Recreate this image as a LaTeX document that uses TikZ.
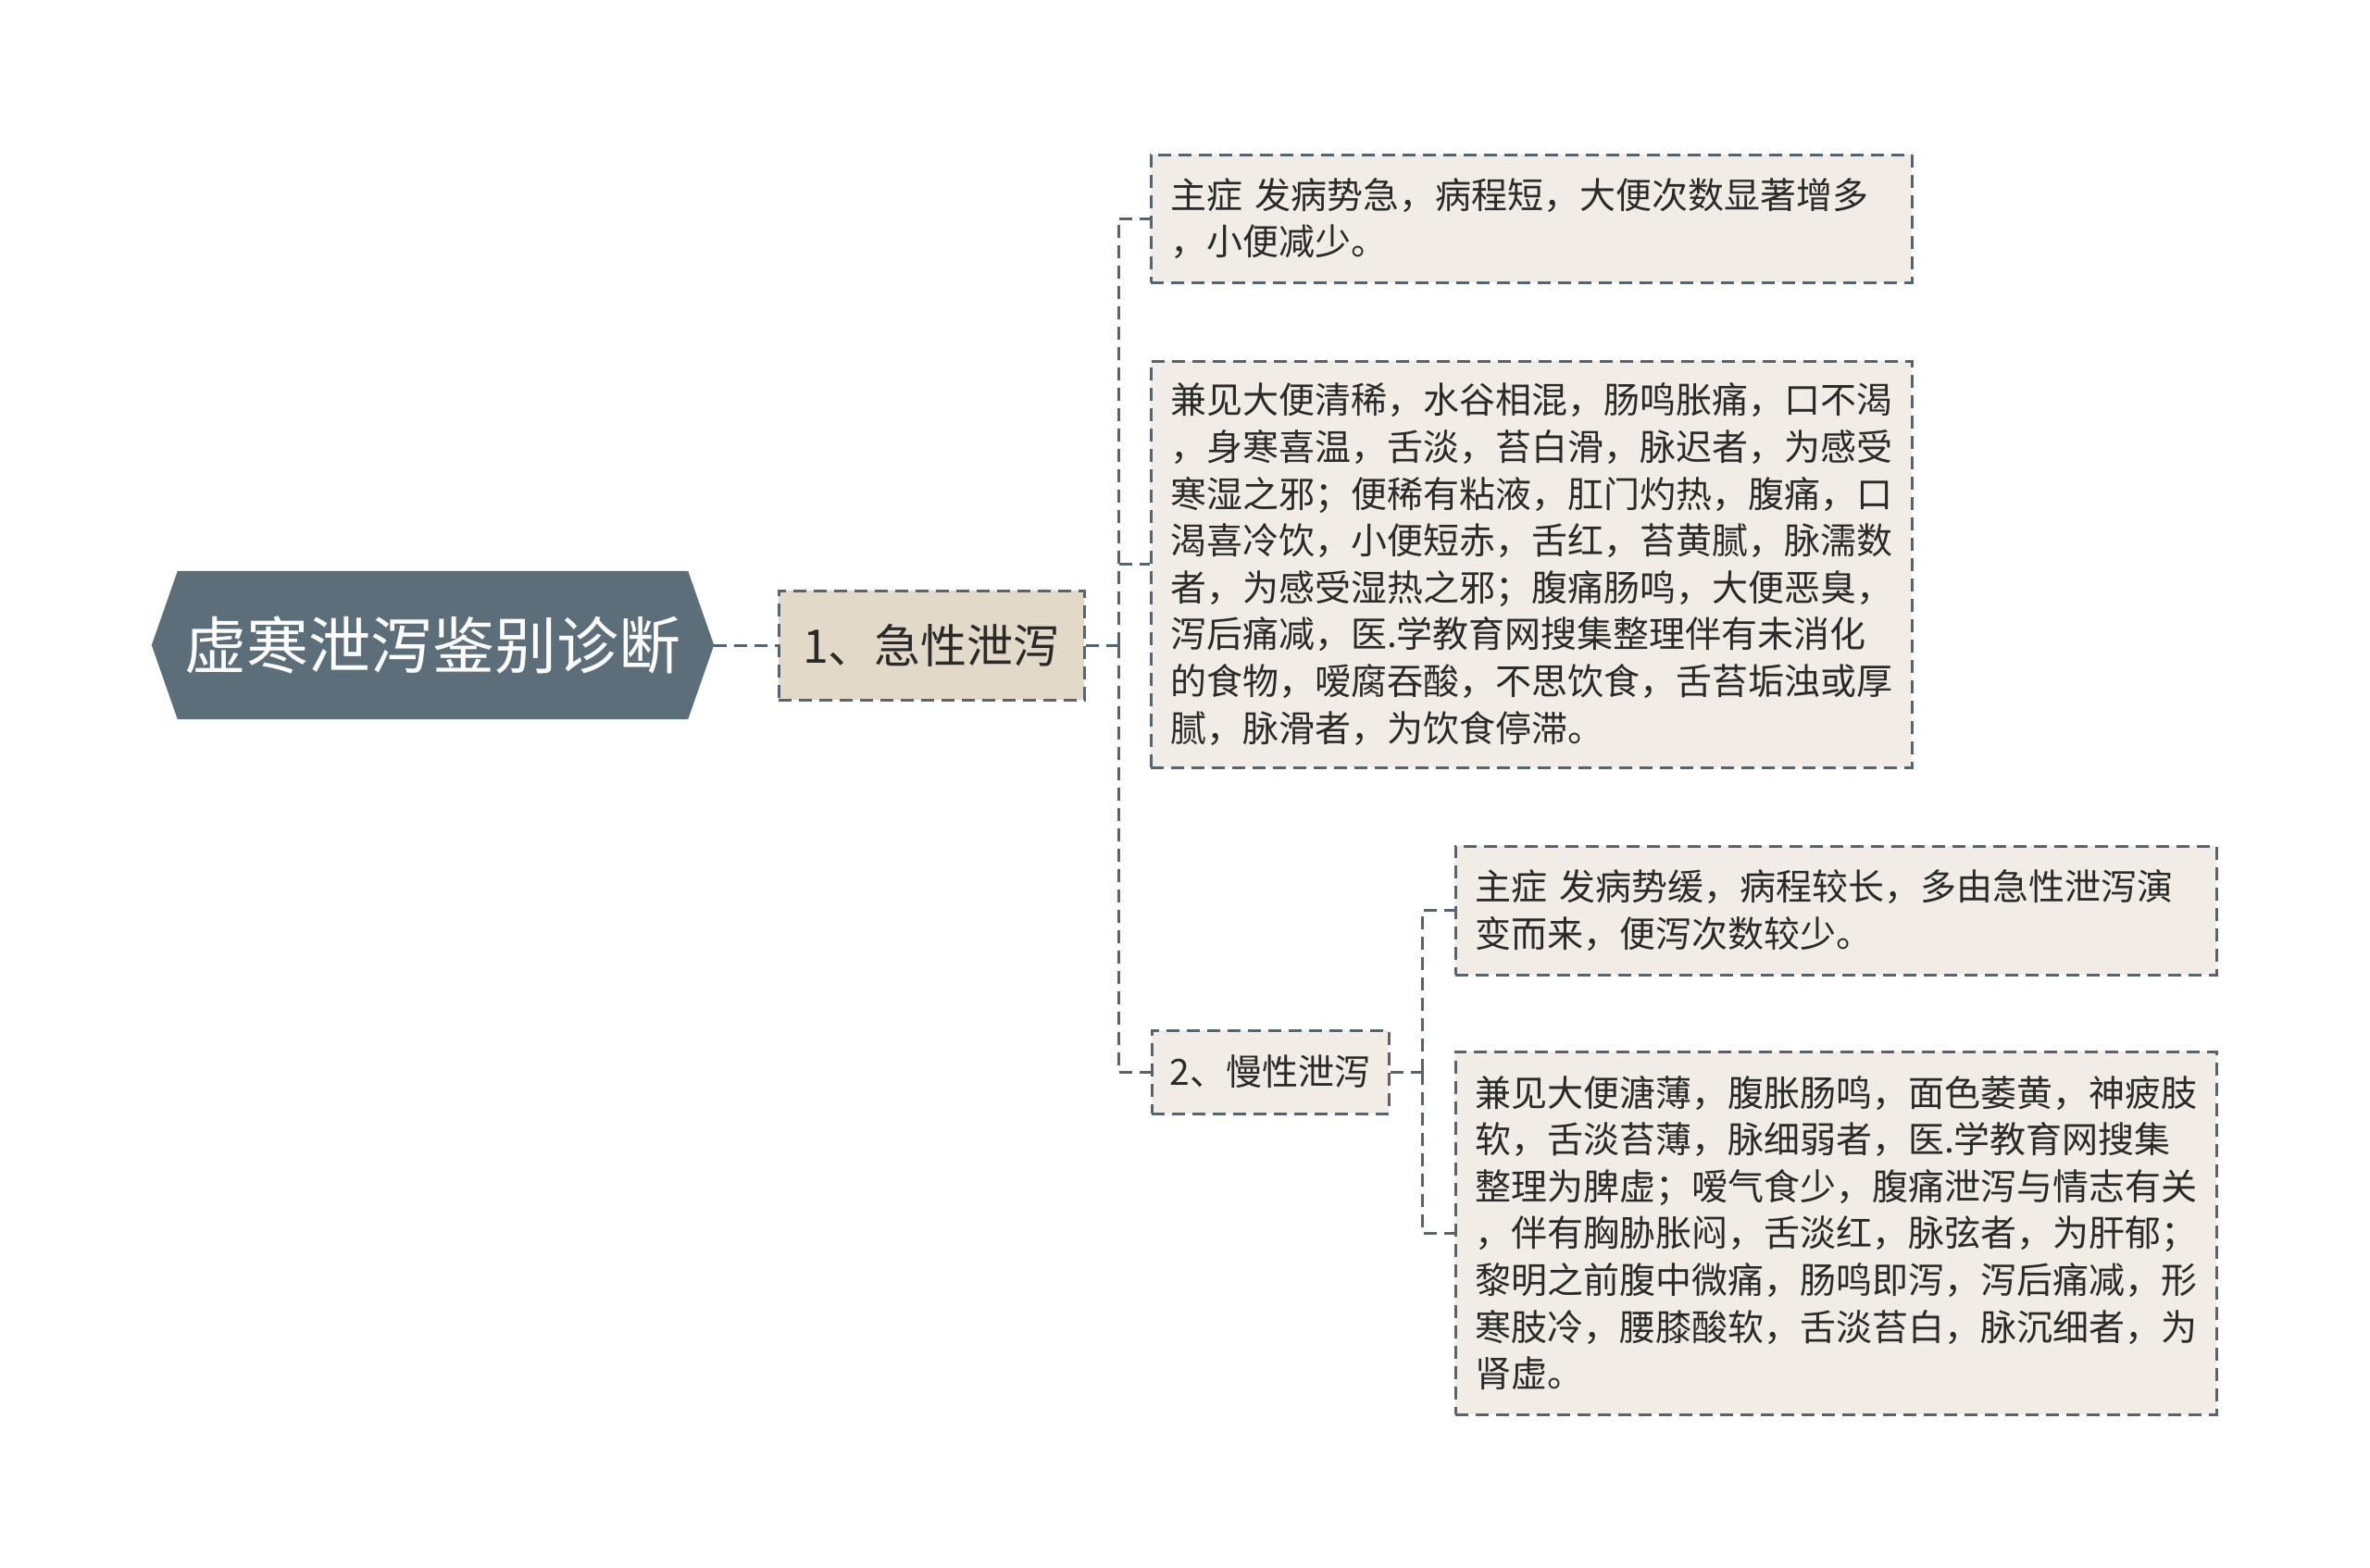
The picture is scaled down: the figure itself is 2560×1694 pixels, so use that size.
\documentclass[tikz,border=0pt]{standalone}
\usepackage{fontspec}
\setmainfont{Noto Sans CJK SC}
\usetikzlibrary{backgrounds}
\definecolor{slate}{HTML}{56646F}
\definecolor{rootfill}{HTML}{5B6E7A}
\definecolor{midfill}{HTML}{E2D9C9}
\definecolor{leaffill}{HTML}{F1EDE6}
\definecolor{txt}{HTML}{2A2A2A}
\tikzset{
  conn/.style={draw=slate, line width=3pt, dash pattern=on 14pt off 8pt},
  boxbase/.style={draw=slate, line width=3pt, dash pattern=on 14pt off 8pt, text=txt, inner sep=0pt},
  midbox/.style={boxbase, fill=midfill, font=\fontsize{50}{60}\selectfont},
  subbox/.style={boxbase, fill=leaffill, font=\fontsize{39}{48}\selectfont},
  leafbox/.style={boxbase, fill=leaffill, font=\fontsize{39}{50.6}\selectfont, align=left, text width=780pt, inner xsep=21pt},
}
\begin{document}
\begin{tikzpicture}[x=1pt,y=-1pt]
\useasboundingbox (0,0) rectangle (2560,1694);
% root
\node[minimum width=607pt, minimum height=160pt, inner sep=0pt, text=white,
      font=\fontsize{67}{80}\selectfont] (n0) at (467.5,697) {虚寒泄泻鉴别诊断};
\begin{pgfonlayer}{background}
\fill[white] (0,0) rectangle (2560,1694);
\fill[rootfill] (n0.west) -- ([xshift=28pt]n0.north west) -- ([xshift=-28pt]n0.north east)
  -- (n0.east) -- ([xshift=-28pt]n0.south east) -- ([xshift=28pt]n0.south west) -- cycle;
\end{pgfonlayer}
% level 1
\node[midbox, minimum width=330pt, minimum height=118pt] (n1) at (1006,697) {1、急性泄泻};
\node[subbox, minimum width=256pt, minimum height=90pt] (n2) at (1372,1158) {2、慢性泄泻};
% leaves
\node[leafbox, minimum height=138pt] (a) at (1654,236) {主症 发病势急，病程短，大便次数显著增多\\，小便减少。};
\node[leafbox, minimum height=439pt] (b) at (1654,609.5) {兼见大便清稀，水谷相混，肠鸣胀痛，口不渴\\，身寒喜温，舌淡，苔白滑，脉迟者，为感受\\寒湿之邪；便稀有粘液，肛门灼热，腹痛，口\\渴喜冷饮，小便短赤，舌红，苔黄腻，脉濡数\\者，为感受湿热之邪；腹痛肠鸣，大便恶臭，\\泻后痛减，医.学教育网搜集整理伴有未消化\\的食物，嗳腐吞酸，不思饮食，舌苔垢浊或厚\\腻，脉滑者，为饮食停滞。};
\node[leafbox, minimum height=139pt] (c) at (1983,983.5) {主症 发病势缓，病程较长，多由急性泄泻演\\变而来，便泻次数较少。};
\node[leafbox, minimum height=392pt] (d) at (1983,1332) {兼见大便溏薄，腹胀肠鸣，面色萎黄，神疲肢\\软，舌淡苔薄，脉细弱者，医.学教育网搜集\\整理为脾虚；嗳气食少，腹痛泄泻与情志有关\\，伴有胸胁胀闷，舌淡红，脉弦者，为肝郁；\\黎明之前腹中微痛，肠鸣即泻，泻后痛减，形\\寒肢冷，腰膝酸软，舌淡苔白，脉沉细者，为\\肾虚。};
% connectors
\coordinate (t1) at (1208,697);
\coordinate (t2) at (1536,1158);
\draw[conn] (n0.east) -- (n1.west);
\draw[conn] (n1.east) -- (t1);
\draw[conn] (t1) |- (a.west);
\draw[conn] (t1) |- (b.west);
\draw[conn] (t1) |- (n2.west);
\draw[conn] (n2.east) -- (t2);
\draw[conn] (t2) |- (c.west);
\draw[conn] (t2) |- (d.west);
\end{tikzpicture}
\end{document}
